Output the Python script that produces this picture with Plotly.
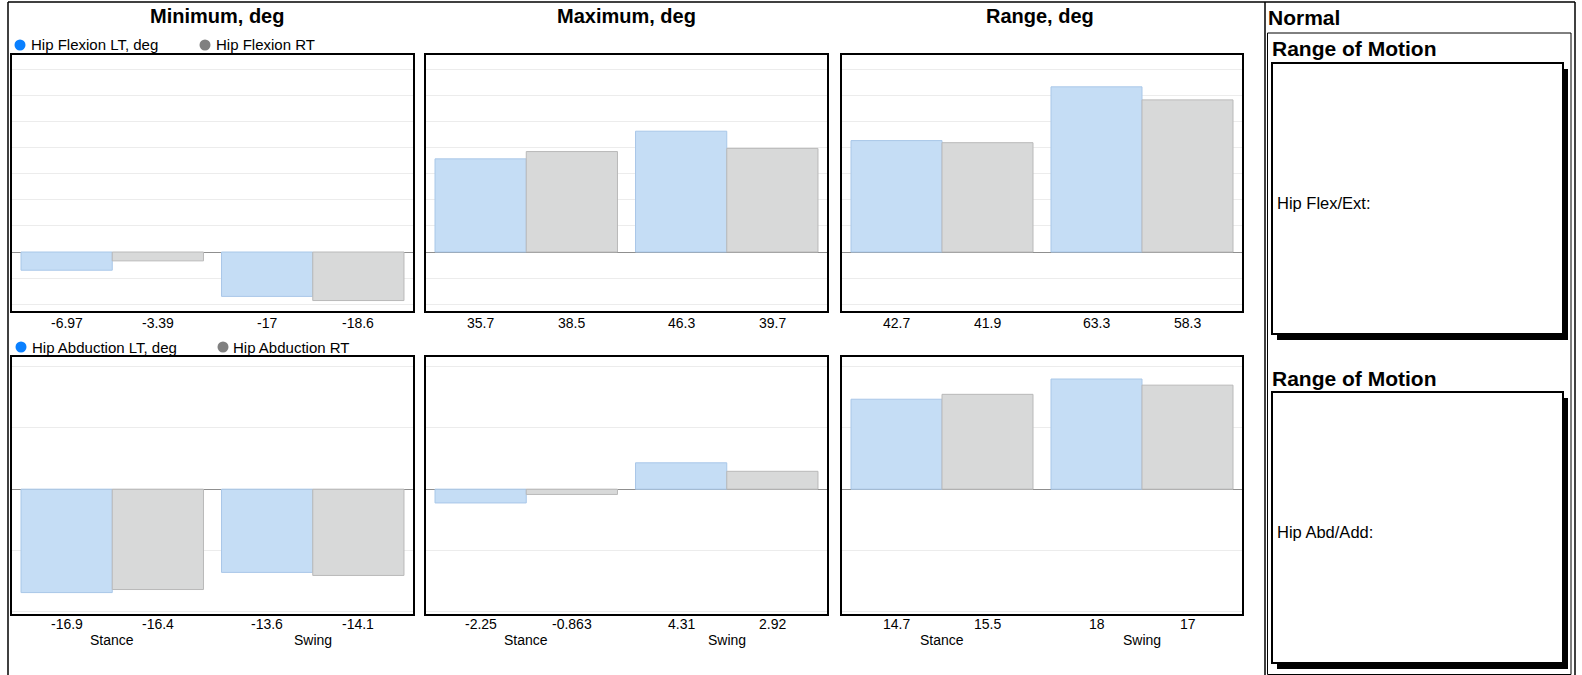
import plotly.graph_objects as go

W, H = 1582, 675

# ---------------- data ----------------
categories = ["Stance", "Swing"]
column_titles = ["Minimum, deg", "Maximum, deg", "Range, deg"]

flex_min_lt = [-6.97, -17]
flex_min_rt = [-3.39, -18.6]
flex_max_lt = [35.7, 46.3]
flex_max_rt = [38.5, 39.7]
flex_rng_lt = [42.7, 63.3]
flex_rng_rt = [41.9, 58.3]

abd_min_lt = [-16.9, -13.6]
abd_min_rt = [-16.4, -14.1]
abd_max_lt = [-2.25, 4.31]
abd_max_rt = [-0.863, 2.92]
abd_rng_lt = [14.7, 18]
abd_rng_rt = [15.5, 17]

legend_top = ["Hip Flexion LT, deg", "Hip Flexion RT"]
legend_bottom = ["Hip Abduction LT, deg", "Hip Abduction RT"]
side_header = "Normal"
side_section = "Range of Motion"
side_labels = ["Hip Flex/Ext:", "Hip Abd/Add:"]

# ---------------- styling ----------------
FONT = "Liberation Sans, Arial, sans-serif"
BLUE_FILL, BLUE_LINE, BLUE_DOT = "#c5ddf5", "#a9c7e8", "#0a80ff"
GREY_FILL, GREY_LINE, GREY_DOT = "#d8d9d9", "#b9b9b9", "#808080"
BARGAP = 0.09


def px(x):
    return x / W


def py(y):
    return 1 - y / H


col_px = [(12, 413), (426, 827), (842, 1242)]
row_px = [(55, 311), (357, 614)]
row_ranges = [[-22.6, 75.5], [-20.4, 21.6]]

panels = [
    (0, 0, flex_min_lt, flex_min_rt),
    (0, 1, flex_max_lt, flex_max_rt),
    (0, 2, flex_rng_lt, flex_rng_rt),
    (1, 0, abd_min_lt, abd_min_rt),
    (1, 1, abd_max_lt, abd_max_rt),
    (1, 2, abd_rng_lt, abd_rng_rt),
]

fig = go.Figure()
annotations = []
shapes = []
layout_axes = {}

offset = (1 - BARGAP) / 4

for k, (r, c, lt, rt) in enumerate(panels):
    n = k + 1
    xa = "x" if n == 1 else f"x{n}"
    ya = "y" if n == 1 else f"y{n}"
    fig.add_trace(go.Bar(x=categories, y=lt, xaxis=xa, yaxis=ya, showlegend=False,
                         marker=dict(color=BLUE_FILL, line=dict(color=BLUE_LINE, width=1)),
                         hoverinfo="y"))
    fig.add_trace(go.Bar(x=categories, y=rt, xaxis=xa, yaxis=ya, showlegend=False,
                         marker=dict(color=GREY_FILL, line=dict(color=GREY_LINE, width=1)),
                         hoverinfo="y"))
    x0, x1 = col_px[c]
    y0, y1 = row_px[r]
    layout_axes["xaxis" if n == 1 else f"xaxis{n}"] = dict(
        domain=[px(x0), px(x1)], anchor=ya, type="category", range=[-0.5, 1.5],
        showticklabels=False, ticks="", showgrid=False, zeroline=False,
        showline=True, linecolor="black", linewidth=1.5, mirror=True, fixedrange=True)
    layout_axes["yaxis" if n == 1 else f"yaxis{n}"] = dict(
        domain=[py(y1), py(y0)], anchor=xa, range=row_ranges[r], dtick=10, tick0=0,
        showticklabels=False, ticks="", showgrid=True, gridcolor="#ececec", gridwidth=1,
        zeroline=True, zerolinecolor="#8f8f8f", zerolinewidth=1,
        showline=True, linecolor="black", linewidth=1.5, mirror=True, fixedrange=True)
    # value labels below each bar
    for i in range(len(categories)):
        for val, sgn in ((lt[i], -1), (rt[i], 1)):
            annotations.append(dict(
                xref=xa, yref="paper", x=i + sgn * offset, y=py(322.5 if r == 0 else 623.5),
                yanchor="middle", xanchor="center", showarrow=False,
                text=f"{val:g}", font=dict(family=FONT, size=14, color="black")))
        if r == 1:
            annotations.append(dict(
                xref=xa, yref="paper", x=i, y=py(640), yanchor="middle", xanchor="center",
                showarrow=False, text=categories[i],
                font=dict(family=FONT, size=14, color="black")))

# column titles
title_x = [217, 626, 1040]
for t, xc in zip(column_titles, title_x):
    annotations.append(dict(xref="paper", yref="paper", x=px(xc), y=py(16), xanchor="center",
                            yanchor="middle", showarrow=False, text=f"<b>{t}</b>",
                            font=dict(family=FONT, size=20, color="black")))

# legends (dot + text)
legend_rows = [
    (legend_top, 45, [(20, 30), (205, 215)]),
    (legend_bottom, 347, [(21, 31), (223, 232)]),
]
for names, yc, pos in legend_rows:
    for name, (dx, tx), col in zip(names, pos, (BLUE_DOT, GREY_DOT)):
        shapes.append(dict(type="circle", xref="paper", yref="paper",
                           xsizemode="pixel", ysizemode="pixel",
                           xanchor=px(dx), yanchor=py(yc),
                           x0=-5.5, x1=5.5, y0=-5.5, y1=5.5,
                           fillcolor=col, line=dict(width=0)))
        annotations.append(dict(xref="paper", yref="paper", x=px(tx - 1), y=py(yc),
                                xanchor="left", yanchor="middle", showarrow=False,
                                text=name, font=dict(family=FONT, size=15, color="black")))

# frames
LINE = dict(color="black", width=1.5)
shapes.append(dict(type="line", xref="paper", yref="paper", x0=px(8), x1=px(1575), y0=py(2), y1=py(2), line=LINE))
for xv in (8, 1265, 1575):
    shapes.append(dict(type="line", xref="paper", yref="paper", x0=px(xv), x1=px(xv),
                       y0=py(2), y1=py(H + 5), line=LINE))
# container box of normal section
shapes.append(dict(type="rect", xref="paper", yref="paper", x0=px(1267.5), x1=px(1571),
                   y0=py(33), y1=py(674.5), line=dict(color="black", width=1)))

# side texts
annotations.append(dict(xref="paper", yref="paper", x=px(1266), y=py(18), xanchor="left",
                        yanchor="middle", showarrow=False, text=f"<b>{side_header}</b>",
                        font=dict(family=FONT, size=21, color="black")))
boxes = [(49, 63, 334, 203), (378, 392, 663, 532)]
for (hy, by0, by1, ly), lab in zip(boxes, side_labels):
    annotations.append(dict(xref="paper", yref="paper", x=px(1270), y=py(hy), xanchor="left",
                            yanchor="middle", showarrow=False, text=f"<b>{side_section}</b>",
                            font=dict(family=FONT, size=21, color="black")))
    shapes.append(dict(type="rect", xref="paper", yref="paper", x0=px(1277), x1=px(1568),
                       y0=py(by0 + 6), y1=py(by1 + 6), fillcolor="black", line=dict(width=0)))
    shapes.append(dict(type="rect", xref="paper", yref="paper", x0=px(1272), x1=px(1563),
                       y0=py(by0), y1=py(by1), fillcolor="white", line=dict(color="black", width=2)))
    annotations.append(dict(xref="paper", yref="paper", x=px(1275), y=py(ly), xanchor="left",
                            yanchor="middle", showarrow=False, text=lab,
                            font=dict(family=FONT, size=16.5, color="black")))

fig.update_layout(
    width=W, height=H, margin=dict(l=0, r=0, t=0, b=0),
    paper_bgcolor="white", plot_bgcolor="white",
    barmode="group", bargap=BARGAP, bargroupgap=0,
    showlegend=False, annotations=annotations, shapes=shapes,
    font=dict(family=FONT, size=14, color="black"),
    **layout_axes,
)

fig.write_html("out.html", config={"displayModeBar": False},
               post_script="document.body.style.margin='0';document.body.style.overflow='hidden';")
